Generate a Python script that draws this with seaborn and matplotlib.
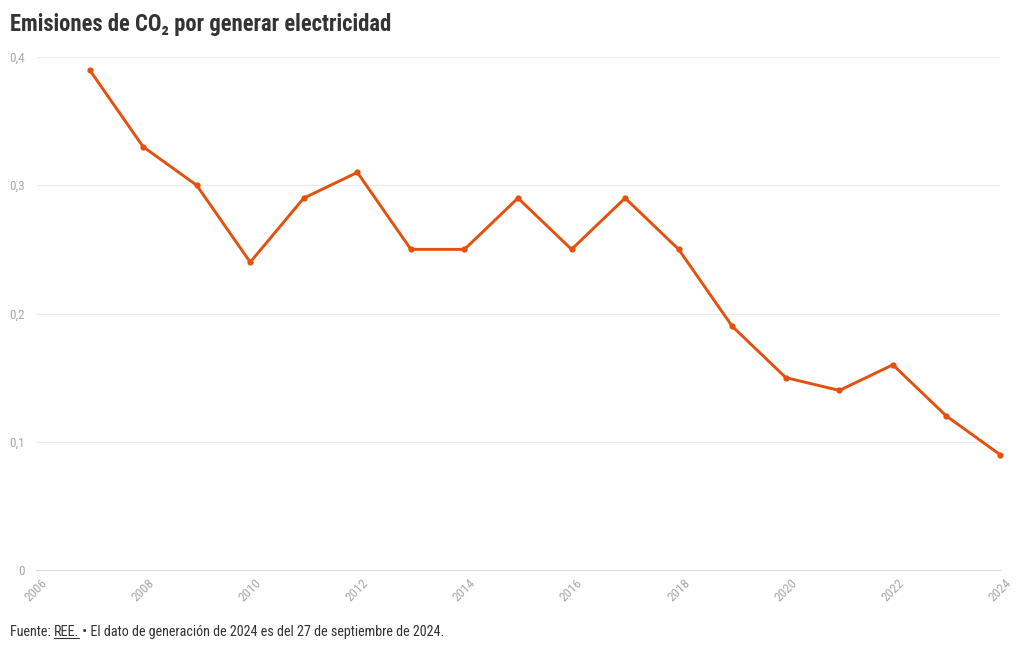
import matplotlib
matplotlib.use("Agg")
import matplotlib.pyplot as plt
import seaborn as sns
import pandas as pd
from matplotlib import font_manager as fm

years = [2007, 2008, 2009, 2010, 2011, 2012, 2013, 2014, 2015, 2016, 2017, 2018, 2019, 2020, 2021, 2022, 2023, 2024]
emissions = [0.39, 0.33, 0.30, 0.24, 0.29, 0.31, 0.25, 0.25, 0.29, 0.25, 0.29, 0.25, 0.19, 0.15, 0.14, 0.16, 0.12, 0.09]
x_ticks = [2006, 2008, 2010, 2012, 2014, 2016, 2018, 2020, 2022, 2024]
y_ticks = [0, 0.1, 0.2, 0.3, 0.4]
y_labels = ["0", "0,1", "0,2", "0,3", "0,4"]

sns.set_theme(style="white")
names = {f.name for f in fm.fontManager.ttflist}
fam = [n for n in ["Roboto Condensed", "Liberation Sans Narrow", "Roboto"] if n in names] + ["DejaVu Sans"]
plt.rcParams['font.family'] = fam

df = pd.DataFrame({"year": years, "value": emissions})
fig = plt.figure(figsize=(10.2, 6.5), dpi=100)
ax = fig.add_axes([36/1020, 1-570/650, (1000-36)/1020, (570-57)/650])
sns.lineplot(data=df, x="year", y="value", ax=ax, color="#e4500e", linewidth=2.1,
             marker="o", markersize=4.5, markeredgewidth=0)
ax.set_xlim(2006, 2024)
ax.set_ylim(0, 0.4)
ax.set_xticks(x_ticks)
ax.set_xticklabels([str(t) for t in x_ticks], rotation=45, ha="center", va="top",
                   color="#aaaaaa", fontsize=9.5)
ax.set_yticks(y_ticks)
ax.set_yticklabels(y_labels, color="#aaaaaa", fontsize=9.5)
ax.grid(axis="y", color="#ebebeb", linewidth=0.8)
ax.set_axisbelow(True)
for s in ["top", "right", "left"]:
    ax.spines[s].set_visible(False)
ax.spines["bottom"].set_color("#dddddd")
ax.spines["bottom"].set_linewidth(0.8)
ax.tick_params(axis="x", length=5, color="#dddddd", pad=0)
ax.tick_params(axis="y", length=0, pad=8)
ax.set_xlabel("")
ax.set_ylabel("")
for l in ax.lines:
    l.set_clip_on(False)

fig.text(10/1020, 1-25/650, "Emisiones de CO₂ por generar electricidad", fontsize=16.3,
         fontweight="bold", color="#333333", va="center", ha="left")
fs = 10.2
t1 = fig.text(10/1020, 1-632/650, "Fuente: ", fontsize=fs, color="#333333", va="center", ha="left")
fig.canvas.draw()
r = fig.canvas.get_renderer()
bb = t1.get_window_extent(r)
t2 = fig.text(bb.x1/1020, 1-632/650, "REE.", fontsize=fs, color="#333333", va="center", ha="left")
bb2 = t2.get_window_extent(r)
fig.add_artist(plt.Line2D([bb2.x0/1020, bb2.x1/1020], [(bb2.y0+1)/650]*2, color="#333333", linewidth=0.8))
fig.text(bb2.x1/1020, 1-632/650, " • El dato de generación de 2024 es del 27 de septiembre de 2024.",
         fontsize=fs, color="#333333", va="center", ha="left")
fig.savefig("out.png", dpi=100)
